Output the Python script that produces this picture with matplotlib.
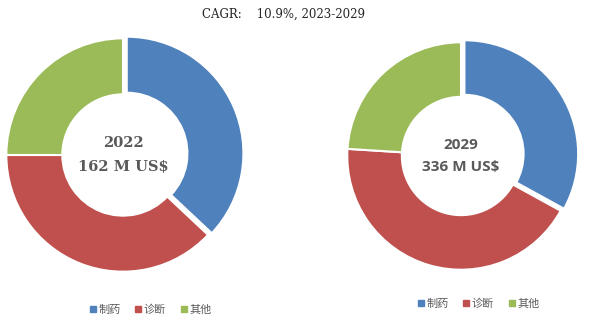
import matplotlib.pyplot as plt
from matplotlib.lines import Line2D

plt.rcParams['font.family'] = ['Noto Sans CJK SC', 'DejaVu Sans']

# market split by segment, shares in percent
segments = ['制药', '诊断', '其他']
colors = ['#4F81BD', '#C0504D', '#9BBB59']
years = ['2022', '2029']
totals = ['162 M US$', '336 M US$']
share_2022 = [37, 38, 25]
share_2029 = [33, 43, 24]

W, H = 601, 329
fig = plt.figure(figsize=(W / 100, H / 100), dpi=100)


def px_axes(cx, cy, r):
    # axes box around a pie centred at pixel (cx, cy) with radius r
    return fig.add_axes([(cx - r) / W, (H - cy - r) / H, 2 * r / W, 2 * r / H])


def donut(ax, shares, year, total, fontfamily, size):
    ax.pie(shares, colors=colors, startangle=90, counterclock=False,
           explode=[0.035, 0, 0], radius=1,
           wedgeprops=dict(width=0.48, edgecolor='white', linewidth=1.5))
    ax.set_xlim(-1.02, 1.02)
    ax.set_ylim(-1.02, 1.02)
    ax.set_aspect('equal')
    ax.axis('off')
    ax.text(0, 0.1, year, ha='center', va='center', fontsize=size,
            fontweight='bold', color='#595959', family=fontfamily)
    ax.text(0, -0.1, total, ha='center', va='center', fontsize=size,
            fontweight='bold', color='#595959', family=fontfamily)


ax1 = px_axes(123, 155, 119)
donut(ax1, share_2022, years[0], totals[0], ['DejaVu Serif'], 10.5)
ax2 = px_axes(461, 156, 116)
donut(ax2, share_2029, years[1], totals[1], ['Open Sans'], 11)

fig.text(283 / W, 1 - 14 / H, 'CAGR:    10.9%, 2023-2029', ha='center', va='center',
         fontsize=8.5, color='#262626', family=['DejaVu Serif'])

handles = [Line2D([], [], marker='s', linestyle='none', markersize=4,
                  markerfacecolor=c, markeredgecolor=c) for c in colors]
for x, y in [(150, 310), (478, 304)]:
    fig.legend(handles, segments, loc='center', bbox_to_anchor=(x / W, 1 - y / H),
               ncol=3, frameon=False, fontsize=8, handletextpad=0.1,
               columnspacing=1.2, handlelength=0.8, labelcolor='#595959')

fig.savefig('out.png', dpi=100, facecolor='white')
